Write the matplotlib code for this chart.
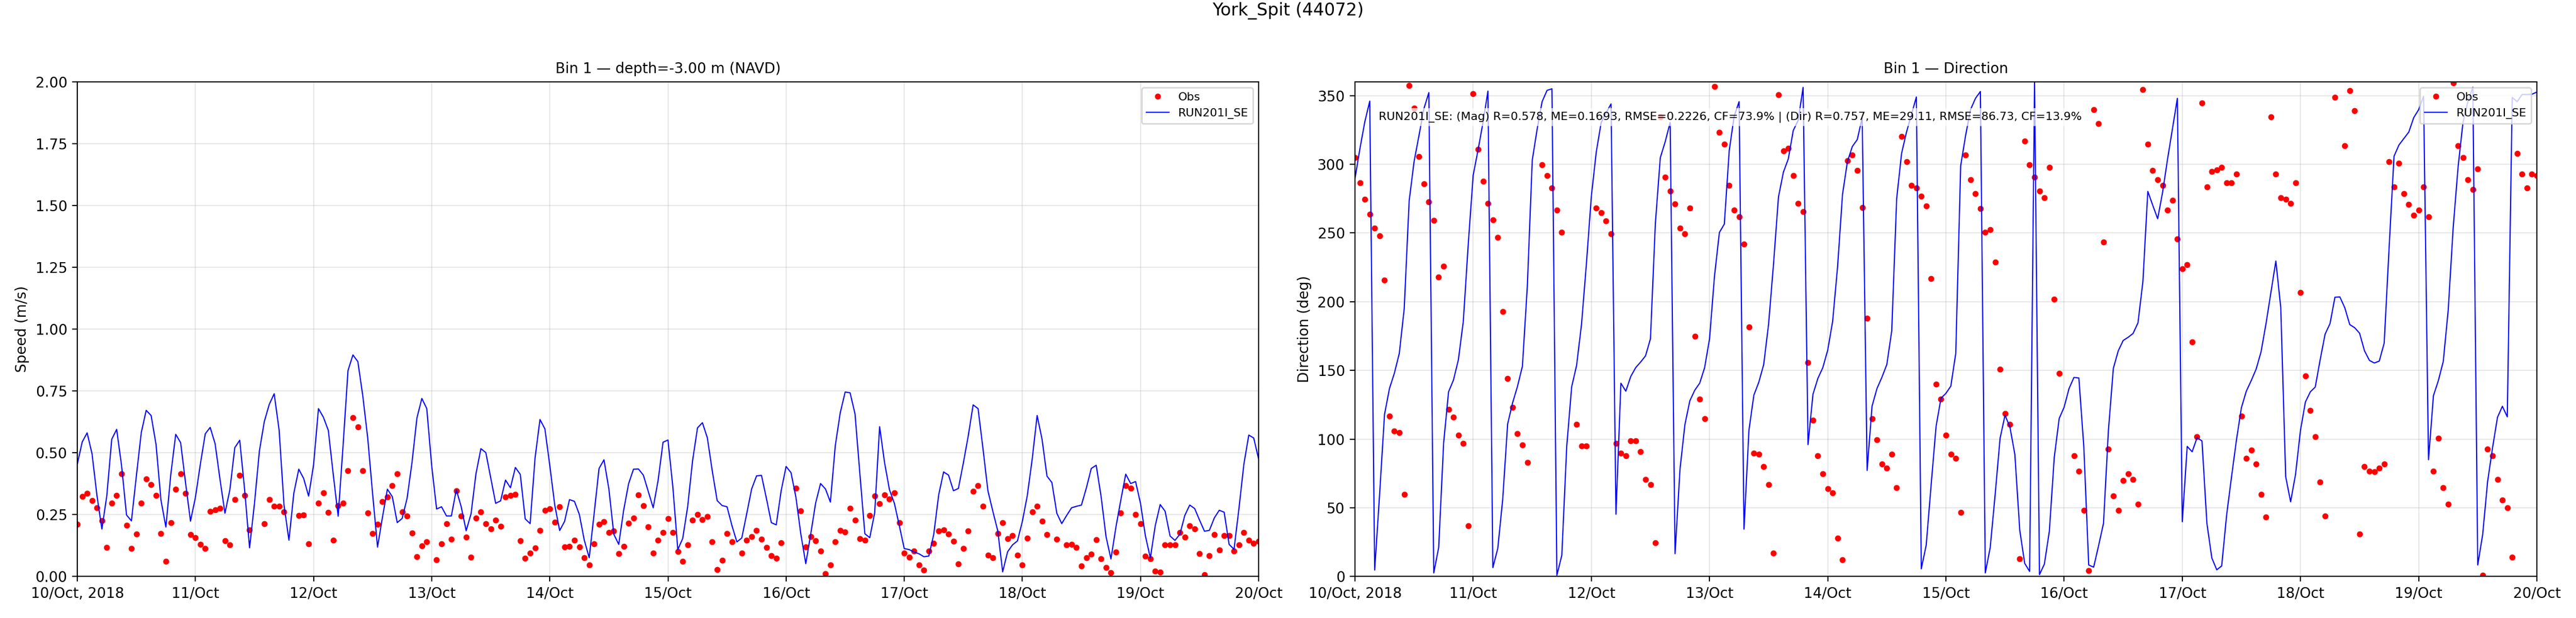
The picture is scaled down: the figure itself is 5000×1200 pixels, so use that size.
import numpy as np
import pandas as pd
import matplotlib
matplotlib.use("Agg")
import matplotlib.pyplot as plt
import matplotlib.dates as mdates

nan = np.nan

station_title = "York_Spit (44072)"
speed_title = "Bin 1 \u2014 depth=-3.00 m (NAVD)"
dir_title = "Bin 1 \u2014 Direction"
model_name = "RUN201I_SE"
stats_text = ("RUN201I_SE: (Mag) R=0.578, ME=0.1693, RMSE=0.2226, CF=73.9% | "
              "(Dir) R=0.757, ME=29.11, RMSE=86.73, CF=13.9%")

start_time = "2018-10-10 00:00"
n_hours = 241

tick_days = ["2018-10-%02d" % d for d in range(10, 21)]
tick_labels = ["10/Oct, 2018", "11/Oct", "12/Oct", "13/Oct", "14/Oct", "15/Oct",
               "16/Oct", "17/Oct", "18/Oct", "19/Oct", "20/Oct"]

speed_yticks = [0.00, 0.25, 0.50, 0.75, 1.00, 1.25, 1.50, 1.75, 2.00]
dir_yticks = [0, 50, 100, 150, 200, 250, 300, 350]

# hourly model speed (m/s)
model_speed = [
    0.454, 0.544, 0.581, 0.496, 0.327, 0.192, 0.327, 0.555, 0.595, 0.448,
    0.249, 0.225, 0.406, 0.582, 0.672, 0.651, 0.534, 0.309, 0.200, 0.413,
    0.575, 0.541, 0.378, 0.224, 0.320, 0.454, 0.577, 0.603, 0.537, 0.392,
    0.256, 0.351, 0.521, 0.551, 0.351, 0.116, 0.296, 0.508, 0.627, 0.696,
    0.739, 0.593, 0.289, 0.147, 0.338, 0.434, 0.396, 0.325, 0.451, 0.679,
    0.644, 0.591, 0.413, 0.244, 0.530, 0.833, 0.896, 0.869, 0.731, 0.561,
    0.334, 0.119, 0.240, 0.353, 0.323, 0.218, 0.235, 0.316, 0.461, 0.641,
    0.720, 0.679, 0.448, 0.273, 0.282, 0.245, 0.245, 0.351, 0.282, 0.185,
    0.254, 0.416, 0.517, 0.501, 0.399, 0.296, 0.306, 0.390, 0.359, 0.441,
    0.413, 0.233, 0.214, 0.479, 0.635, 0.597, 0.448, 0.289, 0.186, 0.223,
    0.311, 0.304, 0.251, 0.147, 0.076, 0.254, 0.437, 0.472, 0.354, 0.171,
    0.130, 0.268, 0.375, 0.434, 0.435, 0.410, 0.344, 0.278, 0.389, 0.543,
    0.552, 0.361, 0.109, 0.154, 0.282, 0.468, 0.601, 0.622, 0.561, 0.427,
    0.307, 0.287, 0.282, 0.206, 0.140, 0.156, 0.254, 0.354, 0.407, 0.409,
    0.316, 0.218, 0.209, 0.347, 0.445, 0.420, 0.320, 0.171, 0.052, 0.171,
    0.297, 0.376, 0.354, 0.301, 0.530, 0.662, 0.746, 0.743, 0.658, 0.413,
    0.173, 0.157, 0.258, 0.606, 0.461, 0.351, 0.296, 0.206, 0.113, 0.109,
    0.099, 0.092, 0.080, 0.083, 0.171, 0.330, 0.423, 0.410, 0.347, 0.356,
    0.458, 0.568, 0.694, 0.679, 0.517, 0.347, 0.264, 0.185, 0.019, 0.100,
    0.128, 0.144, 0.223, 0.327, 0.475, 0.651, 0.555, 0.406, 0.380, 0.256,
    0.214, 0.247, 0.278, 0.284, 0.289, 0.358, 0.437, 0.450, 0.323, 0.161,
    0.071, 0.199, 0.309, 0.414, 0.376, 0.384, 0.296, 0.164, 0.075, 0.206,
    0.291, 0.264, 0.164, 0.146, 0.171, 0.247, 0.289, 0.275, 0.228, 0.183,
    0.187, 0.237, 0.268, 0.260, 0.130, 0.110, 0.275, 0.454, 0.572, 0.560,
    0.475,
]

# hourly observed speed (m/s), nan = missing
obs_speed = [
    0.211, 0.324, 0.336, 0.307, 0.278, 0.225, 0.117, 0.297, 0.328, 0.416,
    0.208, 0.113, 0.171, 0.296, 0.394, 0.372, 0.328, 0.173, 0.061, 0.218,
    0.353, 0.415, 0.336, 0.169, 0.158, 0.131, 0.113, 0.263, 0.270, 0.275,
    0.145, 0.128, 0.311, 0.410, 0.328, 0.189, nan, nan, 0.214, 0.311,
    0.284, 0.284, 0.261, nan, nan, 0.247, 0.249, 0.133, nan, 0.297,
    0.338, 0.260, 0.147, 0.287, 0.296, 0.427, 0.643, 0.605, 0.427, 0.258,
    0.173, 0.211, 0.302, 0.322, 0.367, 0.416, 0.261, 0.245, 0.175, 0.081,
    0.123, 0.140, nan, 0.067, 0.133, 0.213, 0.151, 0.347, 0.245, 0.160,
    0.079, 0.237, 0.262, 0.213, 0.193, 0.227, 0.204, 0.321, 0.328, 0.332,
    0.144, 0.073, 0.095, 0.115, 0.187, 0.268, 0.273, 0.220, 0.282, 0.119,
    0.121, 0.146, 0.119, 0.076, 0.046, 0.133, 0.211, 0.222, 0.178, 0.185,
    0.092, 0.121, 0.216, 0.237, 0.331, 0.287, 0.200, 0.095, 0.146, 0.177,
    0.235, 0.177, 0.100, 0.061, 0.127, 0.229, 0.251, 0.231, 0.243, 0.140,
    0.028, 0.065, 0.173, 0.140, nan, 0.094, 0.147, 0.162, 0.187, 0.150,
    0.117, 0.085, 0.073, 0.137, nan, nan, 0.357, 0.266, 0.119, 0.162,
    0.144, 0.104, 0.011, 0.046, 0.140, 0.187, 0.180, 0.276, 0.227, 0.154,
    0.146, 0.247, 0.326, 0.295, 0.331, 0.314, 0.338, 0.218, 0.095, 0.078,
    0.103, 0.046, 0.026, 0.104, 0.135, 0.185, 0.189, 0.171, 0.142, 0.052,
    0.113, 0.185, 0.345, 0.367, 0.285, 0.087, 0.077, 0.173, 0.218, 0.152,
    0.166, 0.087, 0.046, 0.156, 0.261, 0.285, 0.224, 0.169, nan, 0.150,
    nan, 0.128, 0.131, 0.117, 0.042, 0.077, 0.090, 0.148, 0.071, 0.037,
    0.015, 0.099, 0.258, 0.368, 0.358, 0.251, 0.214, 0.083, 0.071, 0.022,
    0.017, 0.129, 0.129, 0.127, 0.177, 0.160, 0.206, 0.193, 0.092, 0.007,
    0.085, 0.169, 0.108, 0.166, 0.166, 0.104, 0.127, 0.179, 0.146, 0.135,
    0.142,
]

# hourly model direction (deg)
model_dir = [
    289.6, 311.3, 331.0, 346.0, 4.7, 59.7, 118.0, 136.8, 148.0, 162.4,
    195.0, 273.3, 302.0, 321.0, 340.5, 352.2, 2.6, 21.2, 97.0, 134.4,
    143.0, 157.8, 185.8, 241.8, 292.0, 310.6, 330.5, 353.3, 6.5, 20.5,
    56.2, 111.0, 126.3, 138.4, 153.0, 211.4, 303.0, 325.8, 345.6, 353.8,
    355.0, 0.9, 15.4, 94.7, 138.0, 153.6, 183.4, 227.8, 276.8, 309.0,
    330.5, 337.5, 344.0, 45.3, 140.7, 134.9, 145.6, 152.0, 156.1, 160.6,
    173.0, 257.0, 304.8, 316.5, 330.5, 16.6, 78.0, 110.6, 127.9, 135.6,
    140.7, 152.0, 173.0, 218.4, 250.4, 256.5, 310.0, 335.0, 345.6, 34.5,
    106.4, 132.0, 141.4, 154.3, 184.0, 227.8, 276.3, 294.3, 304.0, 324.6,
    332.0, 356.0, 96.0, 132.6, 144.2, 152.0, 164.8, 185.8, 225.4, 278.0,
    302.0, 313.0, 318.0, 334.0, 77.2, 124.0, 136.8, 145.0, 154.3, 178.8,
    275.0, 308.0, 323.5, 336.3, 349.0, 5.6, 22.9, 66.7, 109.2, 129.8,
    133.3, 138.6, 162.4, 299.0, 321.0, 339.8, 348.0, 353.0, 2.6, 21.2,
    59.7, 100.6, 117.4, 108.8, 88.9, 33.6, 9.6, 3.7, 359.9, 1.4,
    9.1, 32.9, 86.6, 115.0, 123.2, 136.8, 144.9, 144.5, 94.7, 8.4,
    6.8, 22.4, 38.7, 106.4, 151.5, 164.3, 171.8, 174.1, 176.9, 184.6,
    214.5, 280.3, 270.2, 260.4, 279.6, 303.6, 325.8, 348.0, 39.9, 94.7,
    90.8, 101.0, 98.7, 38.7, 13.5, 4.9, 7.7, 44.6, 72.6, 99.4,
    122.8, 134.9, 142.6, 151.0, 163.6, 184.0, 206.8, 229.6, 195.6, 72.6,
    54.4, 74.4, 106.4, 127.0, 134.4, 137.9, 157.8, 176.4, 184.1, 203.3,
    203.5, 195.6, 183.4, 181.1, 177.1, 164.3, 157.3, 155.4, 156.8, 169.9,
    239.4, 305.9, 314.1, 318.8, 323.5, 334.0, 339.8, 349.6, 85.0, 131.6,
    142.6, 156.6, 193.9, 253.4, 297.8, 330.5, 345.6, 356.1, 8.4, 30.6,
    69.1, 93.6, 115.8, 123.9, 116.2, 348.7, 345.6, 350.8, 350.8, 351.0,
    352.6,
]

# hourly observed direction (deg), nan = missing
obs_dir = [
    304.8, 286.6, 274.7, 263.7, 253.7, 247.8, 215.6, 116.9, 106.0, 104.8,
    59.7, 357.5, 340.7, 305.7, 285.9, 272.8, 259.0, 218.0, 225.7, 121.8,
    116.0, 102.9, 97.0, 36.9, 351.5, 310.8, 287.7, 271.6, 259.7, 246.7,
    192.8, 144.0, 123.0, 104.0, 95.7, 83.0, nan, nan, 299.6, 291.7,
    282.8, 266.7, 250.6, nan, nan, 110.6, 95.0, 95.0, nan, 268.0,
    264.9, 258.8, 249.5, 96.8, 89.8, 87.7, 98.7, 98.7, 90.8, 70.7,
    67.0, 24.7, 334.7, 290.8, 280.5, 271.0, 253.7, 249.5, 268.0, 175.0,
    129.0, 114.8, nan, 356.8, 323.4, 314.6, 284.7, 266.7, 261.8, 241.8,
    181.6, 89.8, 88.9, 80.0, 67.0, 17.0, 350.8, 309.7, 311.6, 291.7,
    271.6, 265.6, 155.9, 113.9, 87.7, 74.7, 63.9, 60.9, 27.8, 12.1,
    302.5, 306.6, 295.7, 268.6, 188.1, 114.8, 99.6, 81.9, 78.9, 88.9,
    64.6, 320.4, 301.8, 284.5, 282.8, 276.8, 269.8, 216.8, 139.8, 129.0,
    102.9, 88.9, 86.1, 46.7, 306.6, 288.9, 278.6, 267.9, 250.6, 252.5,
    228.7, 151.0, 118.8, 110.6, nan, 13.1, 316.9, 299.6, 290.5, 280.5,
    275.6, 297.8, 201.9, 147.7, nan, nan, 87.7, 76.8, 48.1, 4.2,
    339.6, 329.8, 243.4, 92.6, 58.8, 48.1, 70.0, 74.7, 70.7, 52.7,
    354.5, 314.6, 295.7, 288.9, 284.7, 266.7, 273.7, 245.7, 223.8, 226.8,
    170.8, 101.8, 344.7, 283.5, 294.7, 295.9, 297.8, 286.6, 286.6, 292.9,
    116.9, 86.1, 91.9, 81.9, 59.7, 43.2, 334.7, 292.9, 275.8, 274.7,
    271.6, 286.6, 206.8, 145.9, 120.7, 101.8, 68.8, 43.9, nan, 348.7,
    nan, 313.7, 353.8, 338.9, 30.8, 80.0, 76.8, 76.1, 78.9, 81.9,
    301.8, 283.5, 300.6, 278.6, 270.7, 262.8, 266.7, 283.5, 261.8, 76.8,
    100.8, 64.6, 52.7, 359.4, 313.7, 304.8, 288.9, 281.7, 296.6, 0.9,
    92.6, 87.7, 70.7, 55.8, 49.9, 14.0, 307.8, 292.9, 282.8, 292.9,
    291.7,
]

times = pd.date_range(start_time, periods=n_hours, freq="h")
tick_pos = pd.to_datetime(tick_days)

fig = plt.figure(figsize=(25, 6), dpi=200)
ax1 = fig.add_axes([0.030, 0.0671, 0.4586, 0.8004])
ax2 = fig.add_axes([0.526, 0.0671, 0.4588, 0.8004])

fig.suptitle(station_title, fontsize=12, y=0.997)

# speed panel
ax1.plot(times, obs_speed, "o", color="red", markersize=3.2, label="Obs")
ax1.plot(times, model_speed, "-", color="blue", linewidth=0.8, label=model_name)
ax1.set_title(speed_title, fontsize=10)
ax1.set_ylabel("Speed (m/s)", fontsize=10)
ax1.set_ylim(0, 2.0)
ax1.set_yticks(speed_yticks)
ax1.legend(loc="upper right", fontsize=8, numpoints=1)

# direction panel
ax2.plot(times, obs_dir, "o", color="red", markersize=3.2, label="Obs")
ax2.plot(times, model_dir, "-", color="blue", linewidth=0.8, label=model_name)
ax2.set_title(dir_title, fontsize=10)
ax2.set_ylabel("Direction (deg)", fontsize=10)
ax2.set_ylim(0, 360)
ax2.set_yticks(dir_yticks)
ax2.legend(loc="upper right", fontsize=8, numpoints=1)
ax2.text(0.02, 0.94, stats_text, transform=ax2.transAxes, fontsize=8,
         va="top", ha="left",
         bbox=dict(boxstyle="round,pad=0.3", facecolor="white", alpha=0.7,
                   edgecolor="none"))

for ax in (ax1, ax2):
    ax.set_xlim(tick_pos[0], tick_pos[-1])
    ax.set_xticks(tick_pos)
    ax.set_xticklabels(tick_labels)
    ax.tick_params(labelsize=10)
    ax.grid(True, alpha=0.3)

fig.savefig("out.png", dpi=200)
